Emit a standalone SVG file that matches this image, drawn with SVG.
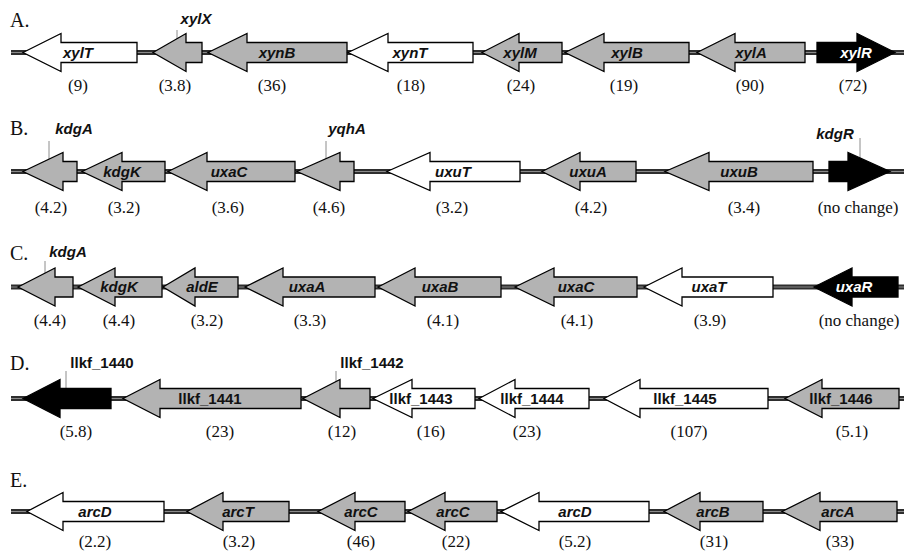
<svg xmlns="http://www.w3.org/2000/svg" width="904" height="551" viewBox="0 0 904 551">
  <style>
    .bb { stroke: #2e2e2e; stroke-width: 5; fill: none; }
    .bbc { stroke: #8a8a8a; stroke-width: 1.2; fill: none; }
    .tick { stroke: #8c8c8c; stroke-width: 1; fill: none; }
    .gene { stroke: #000; stroke-width: 1.3; stroke-linejoin: miter; }
    .gray { fill: #b3b3b3; }
    .white { fill: #fff; }
    .black { fill: #000; }
    .gl { font-family: "Liberation Sans", Arial, sans-serif; font-weight: bold; font-style: italic; font-size: 15px; text-anchor: middle; fill: #111; }
    .gn { font-family: "Liberation Sans", Arial, sans-serif; font-weight: bold; font-size: 15px; text-anchor: middle; fill: #111; }
    .inv { fill: #fff; }
    .val { font-family: "Liberation Serif", "Times New Roman", serif; font-size: 17px; text-anchor: middle; fill: #111; }
    .panel { font-family: "Liberation Serif", "Times New Roman", serif; font-size: 20px; fill: #111; }
  </style>

  <!-- chromosome backbones and locus tick marks -->
  <g id="connectors">
    <g id="backbones">
      <line class="bb" x1="11" y1="52.5" x2="904" y2="52.5"/>
      <line class="bbc" x1="11" y1="52.5" x2="904" y2="52.5"/>
      <line class="bb" x1="11" y1="171.5" x2="904" y2="171.5"/>
      <line class="bbc" x1="11" y1="171.5" x2="904" y2="171.5"/>
      <line class="bb" x1="11" y1="287" x2="904" y2="287"/>
      <line class="bbc" x1="11" y1="287" x2="904" y2="287"/>
      <line class="bb" x1="11" y1="398.5" x2="904" y2="398.5"/>
      <line class="bbc" x1="11" y1="398.5" x2="904" y2="398.5"/>
      <line class="bb" x1="11" y1="511.5" x2="904" y2="511.5"/>
      <line class="bbc" x1="11" y1="511.5" x2="904" y2="511.5"/>
    </g>
    <g id="ticks">
      <line class="tick" x1="177" y1="30" x2="177" y2="45"/>
      <line class="tick" x1="49" y1="141" x2="49" y2="165"/>
      <line class="tick" x1="326" y1="141" x2="326" y2="165"/>
      <line class="tick" x1="860" y1="138" x2="860" y2="165"/>
      <line class="tick" x1="45" y1="261" x2="45" y2="285"/>
      <line class="tick" x1="66" y1="371" x2="66" y2="395"/>
      <line class="tick" x1="336" y1="371" x2="336" y2="395"/>
    </g>
  </g>

  <!-- panel letters -->
  <text class="panel" x="10" y="27">A.</text>
  <text class="panel" x="10" y="135">B.</text>
  <text class="panel" x="10" y="260">C.</text>
  <text class="panel" x="10" y="370">D.</text>
  <text class="panel" x="10" y="487">E.</text>

  <!-- Panel A: xyl cluster -->
  <g id="A-xylT"><path class="gene white" d="M23,52.5L61,33.5V42.5H137V62.5H61V71.5Z"/><text class="gl" x="78" y="57.5">xylT</text><text class="val" x="78" y="91">(9)</text></g>
  <g id="A-xylX"><path class="gene gray" d="M153,52.5L186,33.5V42.5H202V62.5H186V71.5Z"/><text class="gl" x="196" y="24">xylX</text><text class="val" x="175" y="91">(3.8)</text></g>
  <g id="A-xynB"><path class="gene gray" d="M208,52.5L247,33.5V42.5H347V62.5H247V71.5Z"/><text class="gl" x="277" y="57.5">xynB</text><text class="val" x="272" y="91">(36)</text></g>
  <g id="A-xynT"><path class="gene white" d="M348,52.5L388,33.5V42.5H473V62.5H388V71.5Z"/><text class="gl" x="410" y="57.5">xynT</text><text class="val" x="411" y="91">(18)</text></g>
  <g id="A-xylM"><path class="gene gray" d="M482,52.5L519,33.5V42.5H562V62.5H519V71.5Z"/><text class="gl" x="520" y="57.5">xylM</text><text class="val" x="521" y="91">(24)</text></g>
  <g id="A-xylB"><path class="gene gray" d="M565,52.5L604,33.5V42.5H689V62.5H604V71.5Z"/><text class="gl" x="627" y="57.5">xylB</text><text class="val" x="624" y="91">(19)</text></g>
  <g id="A-xylA"><path class="gene gray" d="M697,52.5L735,33.5V42.5H805V62.5H735V71.5Z"/><text class="gl" x="751" y="57.5">xylA</text><text class="val" x="750" y="91">(90)</text></g>
  <g id="A-xylR"><path class="gene black" d="M817,42.5H857V33.5L895,52.5L857,71.5V62.5H817Z"/><text class="gl inv" x="856" y="57.5">xylR</text><text class="val" x="853" y="91">(72)</text></g>

  <!-- Panel B: kdg / uxa / uxu cluster -->
  <g id="B-kdgA"><path class="gene gray" d="M23,171.5L63,152.5V161.5H77V181.5H63V190.5Z"/><text class="gl" x="74" y="134">kdgA</text><text class="val" x="51" y="213">(4.2)</text></g>
  <g id="B-kdgK"><path class="gene gray" d="M82,171.5L122,152.5V161.5H165V181.5H122V190.5Z"/><text class="gl" x="122" y="176.5">kdgK</text><text class="val" x="124" y="213">(3.2)</text></g>
  <g id="B-uxaC"><path class="gene gray" d="M168,171.5L207,152.5V161.5H295V181.5H207V190.5Z"/><text class="gl" x="229" y="176.5">uxaC</text><text class="val" x="228" y="213">(3.6)</text></g>
  <g id="B-yqhA"><path class="gene gray" d="M297,171.5L340,152.5V161.5H354V181.5H340V190.5Z"/><text class="gl" x="347" y="134">yqhA</text><text class="val" x="329" y="213">(4.6)</text></g>
  <g id="B-uxuT"><path class="gene white" d="M387,171.5L430,152.5V161.5H520V181.5H430V190.5Z"/><text class="gl" x="453" y="176.5">uxuT</text><text class="val" x="452" y="213">(3.2)</text></g>
  <g id="B-uxuA"><path class="gene gray" d="M542,171.5L580,152.5V161.5H636V181.5H580V190.5Z"/><text class="gl" x="588" y="176.5">uxuA</text><text class="val" x="591" y="213">(4.2)</text></g>
  <g id="B-uxuB"><path class="gene gray" d="M665,171.5L709,152.5V161.5H813V181.5H709V190.5Z"/><text class="gl" x="739" y="176.5">uxuB</text><text class="val" x="744" y="213">(3.4)</text></g>
  <g id="B-kdgR"><path class="gene black" d="M829,161.5H848V152.5L890,171.5L848,190.5V181.5H829Z"/><text class="gl" x="835" y="139">kdgR</text><text class="val" x="858" y="213">(no change)</text></g>

  <!-- Panel C: kdg / ald / uxa cluster -->
  <g id="C-kdgA"><path class="gene gray" d="M18,287L55,268V277H73V297H55V306Z"/><text class="gl" x="68" y="257">kdgA</text><text class="val" x="50" y="326">(4.4)</text></g>
  <g id="C-kdgK"><path class="gene gray" d="M78,287L115,268V277H162V297H115V306Z"/><text class="gl" x="119" y="292">kdgK</text><text class="val" x="119" y="326">(4.4)</text></g>
  <g id="C-aldE"><path class="gene gray" d="M163,287L195,268V277H238V297H195V306Z"/><text class="gl" x="202" y="292">aldE</text><text class="val" x="207" y="326">(3.2)</text></g>
  <g id="C-uxaA"><path class="gene gray" d="M245,287L283,268V277H375V297H283V306Z"/><text class="gl" x="307" y="292">uxaA</text><text class="val" x="310" y="326">(3.3)</text></g>
  <g id="C-uxaB"><path class="gene gray" d="M378,287L415,268V277H501V297H415V306Z"/><text class="gl" x="440" y="292">uxaB</text><text class="val" x="443" y="326">(4.1)</text></g>
  <g id="C-uxaC"><path class="gene gray" d="M515,287L554,268V277H637V297H554V306Z"/><text class="gl" x="576" y="292">uxaC</text><text class="val" x="577" y="326">(4.1)</text></g>
  <g id="C-uxaT"><path class="gene white" d="M644,287L682,268V277H773V297H682V306Z"/><text class="gl" x="709" y="292">uxaT</text><text class="val" x="710" y="326">(3.9)</text></g>
  <g id="C-uxaR"><path class="gene black" d="M814,287L852,268V277H898V297H852V306Z"/><text class="gl inv" x="854" y="292">uxaR</text><text class="val" x="859" y="326">(no change)</text></g>

  <!-- Panel D: llkf_1440 to llkf_1446 -->
  <g id="D-llkf_1440"><path class="gene black" d="M23,398.5L60,379.5V388.5H111V408.5H60V417.5Z"/><text class="gn" x="102" y="368">llkf_1440</text><text class="val" x="76" y="437">(5.8)</text></g>
  <g id="D-llkf_1441"><path class="gene gray" d="M123,398.5L160,379.5V388.5H301V408.5H160V417.5Z"/><text class="gn" x="210" y="403.5">llkf_1441</text><text class="val" x="220" y="437">(23)</text></g>
  <g id="D-llkf_1442"><path class="gene gray" d="M303,398.5L340,379.5V388.5H370V408.5H340V417.5Z"/><text class="gn" x="372" y="368">llkf_1442</text><text class="val" x="342" y="437">(12)</text></g>
  <g id="D-llkf_1443"><path class="gene white" d="M373,398.5L412,379.5V388.5H475V408.5H412V417.5Z"/><text class="gn" x="421" y="403.5">llkf_1443</text><text class="val" x="431" y="437">(16)</text></g>
  <g id="D-llkf_1444"><path class="gene white" d="M479,398.5L515,379.5V388.5H589V408.5H515V417.5Z"/><text class="gn" x="532" y="403.5">llkf_1444</text><text class="val" x="527" y="437">(23)</text></g>
  <g id="D-llkf_1445"><path class="gene white" d="M604,398.5L640,379.5V388.5H768V408.5H640V417.5Z"/><text class="gn" x="685" y="403.5">llkf_1445</text><text class="val" x="689" y="437">(107)</text></g>
  <g id="D-llkf_1446"><path class="gene gray" d="M785,398.5L822,379.5V388.5H899V408.5H822V417.5Z"/><text class="gn" x="841" y="403.5">llkf_1446</text><text class="val" x="852" y="437">(5.1)</text></g>

  <!-- Panel E: arc cluster -->
  <g id="E-arcD-1"><path class="gene white" d="M27,511.5L63,492.5V501.5H164V521.5H63V530.5Z"/><text class="gl" x="95" y="516.5">arcD</text><text class="val" x="95" y="547">(2.2)</text></g>
  <g id="E-arcT"><path class="gene gray" d="M187,511.5L223,492.5V501.5H289V521.5H223V530.5Z"/><text class="gl" x="238" y="516.5">arcT</text><text class="val" x="239" y="547">(3.2)</text></g>
  <g id="E-arcC-1"><path class="gene gray" d="M318,511.5L355,492.5V501.5H405V521.5H355V530.5Z"/><text class="gl" x="361" y="516.5">arcC</text><text class="val" x="361" y="547">(46)</text></g>
  <g id="E-arcC-2"><path class="gene gray" d="M408,511.5L445,492.5V501.5H497V521.5H445V530.5Z"/><text class="gl" x="453" y="516.5">arcC</text><text class="val" x="456" y="547">(22)</text></g>
  <g id="E-arcD-2"><path class="gene white" d="M501,511.5L539,492.5V501.5H649V521.5H539V530.5Z"/><text class="gl" x="575" y="516.5">arcD</text><text class="val" x="575" y="547">(5.2)</text></g>
  <g id="E-arcB"><path class="gene gray" d="M664,511.5L700,492.5V501.5H763V521.5H700V530.5Z"/><text class="gl" x="713" y="516.5">arcB</text><text class="val" x="714" y="547">(31)</text></g>
  <g id="E-arcA"><path class="gene gray" d="M782,511.5L820,492.5V501.5H897V521.5H820V530.5Z"/><text class="gl" x="838" y="516.5">arcA</text><text class="val" x="840" y="547">(33)</text></g>
</svg>
